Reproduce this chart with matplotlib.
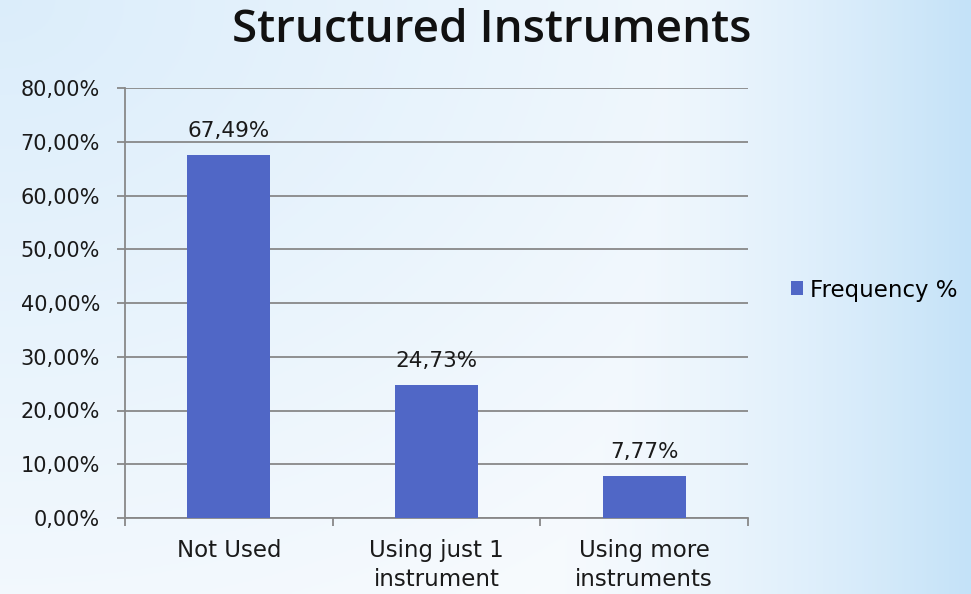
import numpy as np
import matplotlib
matplotlib.use("Agg")
import matplotlib.pyplot as plt

categories = ["Not Used", "Using just 1\ninstrument", "Using more\ninstruments"]
frequency = [67.49, 24.73, 7.77]
value_labels = ["67,49%", "24,73%", "7,77%"]
y_ticks = [0, 10, 20, 30, 40, 50, 60, 70, 80]
y_tick_labels = ["0,00%", "10,00%", "20,00%", "30,00%", "40,00%",
                 "50,00%", "60,00%", "70,00%", "80,00%"]

bar_color = "#5067c6"
grid_color = "#888888"

fig = plt.figure(figsize=(9.71, 5.94), dpi=100)

# fond en dégradé (bleu clair en haut à gauche et à droite, blanc au milieu)
bg = fig.add_axes([0, 0, 1, 1])
xx, yy = np.meshgrid(np.linspace(0, 1, 300), np.linspace(0, 1, 200))
f_right = np.clip((xx - 0.5) / 0.5, 0, 1) ** 1.8
f_tl = np.clip(1 - np.hypot(xx, yy * 0.8) / 1.0, 0, 1) * 0.55
f = np.maximum(f_right, f_tl)
white = np.array([248, 251, 254]) / 255
blue = np.array([196, 226, 248]) / 255
img = white[None, None, :] * (1 - f[..., None]) + blue[None, None, :] * f[..., None]
bg.imshow(img, extent=[0, 1, 0, 1], aspect="auto", origin="upper")
bg.axis("off")

ax = fig.add_axes([125 / 971, 1 - 518 / 594, (748 - 125) / 971, (518 - 88) / 594])
ax.patch.set_alpha(0)

x = np.arange(len(categories))
ax.bar(x, frequency, width=0.4, color=bar_color, zorder=3, label="Frequency %")
for xi, v, lab in zip(x, frequency, value_labels):
    ax.annotate(lab, (xi, v), xytext=(0, 10), textcoords="offset points",
                ha="center", va="bottom", fontsize=15.5, color="#1a1a1a")

ax.set_xlim(-0.5, len(categories) - 0.5)
ax.set_ylim(0, 80)
ax.set_yticks(y_ticks)
ax.set_yticklabels(y_tick_labels, fontsize=15, color="#1a1a1a")
ax.yaxis.grid(True, color=grid_color, linewidth=1.3, zorder=0)
ax.set_axisbelow(True)

ax.set_xticks(x)
ax.set_xticklabels(categories, fontsize=16.5, linespacing=1.35, color="#1a1a1a")
ax.tick_params(axis="x", length=0, pad=15)
ax.set_xticks(np.arange(-0.5, len(categories)), minor=True)
ax.tick_params(axis="x", which="minor", length=6, color=grid_color, width=1.3)
ax.tick_params(axis="y", length=6, color=grid_color, width=1.3, pad=12)

for side in ["top", "right"]:
    ax.spines[side].set_visible(False)
for side in ["left", "bottom"]:
    ax.spines[side].set_color(grid_color)
    ax.spines[side].set_linewidth(1.3)

fig.text(492 / 971, 1 - 30 / 594, "Structured Instruments", ha="center", va="center",
         fontsize=33, fontweight="semibold", family="Open Sans", color="#111111")

fig.legend(loc="center left", bbox_to_anchor=(770 / 971, 1 - 290 / 594), frameon=False,
           fontsize=16.5, handlelength=0.55, handleheight=0.55, handletextpad=0.3)

fig.savefig("out.png", dpi=100)
